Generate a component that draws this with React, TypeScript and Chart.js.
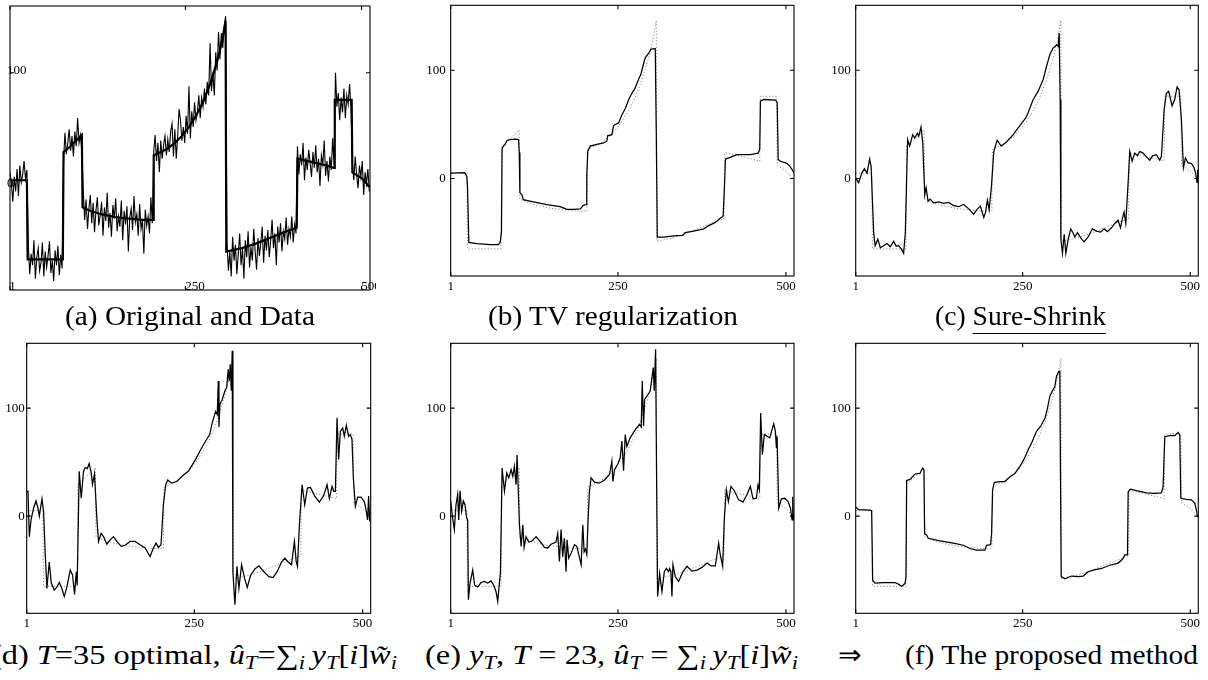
import React, { useEffect, useLayoutEffect, useRef } from 'react';
import { Chart, registerables } from 'chart.js';

Chart.register(...registerables);

type Pt = [number, number];

// ---------- tick values / labels ----------
const xTickValues = [1, 250, 500];
const xTickLabels = ['1', '250', '500'];
const yTickValues = [0, 100];
const yTickLabels = ['0', '100'];

// ---------- original (clean) signal ----------
const originalPts: Pt[] = [
  [1, 5], [25, 5], [26, -65], [76, -65], [77, 30], [85, 34], [95, 40], [103, 45], [104, -19], [115, -22],
  [130, -25], [150, -27.5], [170, -29], [190, -30], [204, -30], [205, 27], [215, 30], [225, 33], [235, 38],
  [245, 44], [255, 52], [265, 62], [275, 74], [285, 90], [295, 110], [302, 128], [307, 146], [308, -58],
  [330, -55], [350, -51], [370, -46], [390, -41], [408, -37], [409, 24], [430, 21], [450, 18], [461, 16],
  [462, 76], [486, 76], [487, 12], [500, 7], [512, -1],
];

// ---------- noisy data (samples 1,3,5,...,511) ----------
const noisyData = [
  12, 2, -14, 8, -5, 15, -9, 18, 3, 10, 22, 6, 14,
  -52, -78, -60, -70, -48, -82, -63, -55, -75, -68, -50, -80, -58, -72, -62, -49, -77, -66, -84, -57, -70, -53, -79, -61, -73,
  22, 47, 28, 38, 50, 31, 44, 26, 48, 35, 60, 38, 45, 30,
  -5, -30, -12, -38, -20, -8, -33, -15, -41, -22, -10, -35, -26, -14, -44, -19, -31, -6, -37, -24, -45, -17, -29, -11, -40,
  -27, -36, -13, -48, -22, -34, -18, -58, -28, -20, -39, -9, -32, -25, -44, -16, -38, -30, -60, -21, -35, -27, -42, -10, -33,
  30, 45, 22, 38, 12, 40, 24, 36, 44, 27, 41, 30, 48, 55, 26, 50, 24, 44, 68, 58, 40, 52, 38, 62, 46, 88, 42, 66, 52, 74,
  58, 65, 80, 60, 78, 70, 86, 72, 92, 80, 126, 84, 100, 80, 118, 102, 136, 112, 135, 122, 140, 150,
  -50, -75, -58, -80, -45, -66, -52, -78, -60, -42, -70, -55, -82, -48, -63, -40, -72, -54, -66, -38, -58, -74, -46, -62, -50,
  -36, -68, -44, -57, -39, -63, -48, -30, -55, -42, -70, -36, -50, -33, -58, -40, -47, -28, -52, -38, -45, -27, -50, -34, -42,
  35, 10, 28, 18, 38, 5, 25, 14, 32, 20, 8, 30, 16, 36, 12, 24, 0, 27, 19, 40, 9, 22, 4, 26, 14, 42, 18,
  100, 70, 82, 58, 78, 65, 86, 60, 80, 72, 90, 68,
  20, 5, 26, 10, -2, 18, 8, 22, -8, 12, 2, 15, -5,
];

// ---------- (b) TV regularization ----------
const tvPts: Pt[] = [
  [1, 5], [22, 5.5], [25, 2], [26, -7], [28, -59], [40, -60], [60, -61], [72, -61], [74.5, -59], [76.5, -50],
  [77.5, 28], [79.5, 30], [82, 31.5], [84.5, 35], [89, 36], [97, 36.5], [102, 36], [103, 24], [104, -13],
  [107, -15], [109, -19.5], [124, -21.5], [144, -24], [164, -26], [174, -28.5], [184, -28.5], [194, -28],
  [198, -25], [202.5, -24], [203.5, 2], [205, 25], [208.5, 30], [218.5, 31.5], [228.5, 33], [233.5, 34.5],
  [234.5, 39.5], [241, 40.5], [243.5, 49], [251, 51.5], [256, 59], [261, 65], [266, 73], [270.5, 78.5],
  [275.5, 83.5], [280.5, 91.5], [284, 96], [287, 103.5], [290.5, 111.5], [295.5, 115.5], [299, 119.5],
  [305.5, 120], [307, 42], [308.5, -54], [318, -54], [333, -53], [346.5, -52.5], [350, -50], [362.5, -48.5],
  [377.5, -46.5], [385, -43.5], [395, -40.5], [402.5, -36.5], [406.5, -35], [408.5, -7], [410, 18],
  [417, 19.5], [427, 22], [447, 22], [458.5, 23.5], [461, 27], [462, 71.5], [467, 73], [484.5, 72.5],
  [487, 70], [488.5, 17.5], [492, 16], [501.5, 14], [505.5, 11.5], [509, 8.5], [512, 5],
];

// ---------- (c) Sure-Shrink ----------
const sureShrinkPts: Pt[] = [
  [1, 0], [2.4, -1], [5.4, -4], [10, 5], [14, 9], [17.8, 5], [21.8, 18], [24, 11], [27.8, -50], [30, -62],
  [34, -56], [37.7, -64], [42.7, -62], [47.7, -60], [52.6, -63], [57.6, -58], [61.6, -62.5], [65, -62],
  [69, -65], [72.5, -69], [75, -50], [78.4, 36], [81.5, 30], [86, 40.5], [89, 37.5], [93, 42], [95, 39],
  [98.4, 47.5], [101, 33], [104, -15], [106, -8.5], [109, -21], [112, -19], [117.5, -22.5], [125, -21.5],
  [132, -23], [139.5, -22], [147, -25], [154.8, -26], [162, -24], [169.7, -28], [177, -33], [182, -28.5],
  [187, -25.5], [192, -36], [194.5, -31.5], [197.5, -20], [200, -29], [203.5, -7], [207, 25], [212, 35.5],
  [218, 30], [224.5, 33], [234.5, 39.5], [244.7, 48], [254.6, 56], [258, 60.5], [265.7, 73], [273, 80.5],
  [280.6, 91.5], [285.6, 103.5], [290.6, 114.5], [295.5, 120.5], [300.5, 123.5], [303, 122], [304.5, 134.5],
  [306, 73], [307, -56], [309.4, -69], [312, -51.5], [314.4, -69], [318, -56], [321.8, -46.5], [325, -50],
  [327.8, -54], [331.8, -50], [336.8, -55], [341.7, -58.5], [347.7, -54], [354, -46.5], [360, -48.5],
  [366.6, -49.5], [371.5, -46.5], [376.5, -49], [382.5, -45.5], [387.4, -41.5], [392.4, -38.5],
  [395.9, -45.5], [398.9, -36.5], [401.3, -31], [403.8, -41.5], [407.3, -4], [409.8, 25], [413.3, 16],
  [417.2, 23.5], [421.2, 21], [424.7, 25], [429.6, 23.5], [434.6, 20], [439.6, 17], [443.6, 21],
  [449.5, 22], [454.5, 17], [457, 20.5], [461, 63.5], [464.4, 79], [467.9, 80.5], [472.9, 67], [476.8, 73],
  [480.3, 84.5], [483.3, 82], [486.8, 54.5], [489.8, 10], [492.8, 19], [496.7, 14.5], [501.7, 14],
  [505.7, 10], [508, 5], [510.1, -3.5], [511, 8], [512, -3],
];

// ---------- (d) T=35 optimal ----------
const optimalPts: Pt[] = [
  [1, 22], [2.9, 23], [4.9, -19], [7.4, -3.5], [11.3, 7.5], [14.8, 14], [17.7, 7.5], [19.7, 0], [23.7, 16],
  [26.1, 4], [28.6, -36], [31, -67], [34.5, -42.5], [37.5, -62], [41.9, -68.5], [45.9, -65.5], [49.4, -61.5],
  [53.3, -67], [56.8, -74.5], [60.7, -65.5], [65.7, -50], [69.1, -54.5], [72.1, -72.5], [74.6, -51.5],
  [76, -64], [79, 41.5], [82, 16.5], [85.4, 41.5], [87.9, 45], [90.9, 44], [93.8, 48.5], [96.8, 40],
  [98.8, 29.5], [101.7, 39], [105.2, -2], [107.7, -23.5], [111.6, -16], [115.1, -19], [120, -26], [125, -22],
  [129.9, -19], [134.9, -23.5], [141.3, -28], [147.2, -27], [154.6, -23.5], [162, -23.5], [169.4, -26.5],
  [176.9, -29.5], [184.2, -37.5], [189.2, -29.5], [193.1, -25], [196.6, -29], [200.5, -26.5], [204, 10.5],
  [207.5, 29], [210.5, 33.5], [216.4, 30.5], [223.8, 32], [233.7, 38], [241.1, 41.5], [248.5, 49],
  [252, 52.5], [259.4, 61.5], [266.8, 69.5], [272.8, 75.5], [276.7, 86.5], [281.6, 97], [284.1, 94],
  [285.6, 125], [286.6, 82.5], [288, 103.5], [291.5, 108], [295.5, 116], [298, 119], [300.4, 136],
  [301.9, 125], [303.4, 140.5], [304.9, 116], [306.3, 153], [307.3, -51.5], [310.3, -82], [313.3, -46.5],
  [316.2, -67], [320.2, -45], [324.6, -57.5], [328.6, -66], [333.5, -55], [339.9, -49], [345.9, -46],
  [353.3, -51.5], [360.7, -56], [367.1, -57], [373, -51.5], [379.5, -42.5], [384.4, -39], [389.4, -42.5],
  [394.3, -45], [398.7, -23.5], [401.2, -41.5], [403.2, -46.5], [406.1, -8], [410.1, 29], [414, 10.5],
  [418, 26], [422.5, 26.5], [428.9, 18.5], [435.8, 13], [442.2, 19], [447.2, 29], [450.6, 16.5],
  [454.6, 27.5], [457, 23], [459.5, 23], [462, 91], [464.4, 52.5], [466.9, 78.5], [470.4, 81.5],
  [472.8, 74], [475.8, 84], [479.3, 74], [481.7, 75.5], [484.2, 71], [486.2, 35.5], [489.2, 9],
  [492.6, 17.5], [497.6, 17.5], [502.5, 13.5], [505.5, 4.5], [507.4, -3.5], [508.9, 18.5], [510.5, -5],
];

// ---------- (e) y_T, T=23 ----------
const yTPts: Pt[] = [
  [1, 14], [3.9, -2], [6.4, -12.5], [8.9, 10.5], [11.4, 20], [12.9, -3.5], [14.9, 23.5], [17.3, 4.5],
  [19.8, 14], [22.3, 10.5], [24.8, -2], [26.3, -3.5], [27.3, -77.5], [29.8, -62], [33.7, -50], [36.7, -64],
  [41.2, -65.5], [46.2, -61.5], [51.1, -60.5], [56.1, -62], [61.1, -60], [65, -64], [68.5, -70], [71, -79],
  [73.5, -62], [75, -53], [77.5, 44.5], [81, 23], [84.4, 40], [87.4, 35.5], [90.9, 43], [93.4, 37],
  [95.8, 46], [98.3, 29], [99.8, 56.5], [101.3, 29], [103.3, -8], [105.8, -28], [108.3, -8], [110.3, -29],
  [113.2, -19], [117.2, -24], [122.2, -23], [128.1, -19], [134.1, -23.5], [140.5, -29], [145.4, -29.5],
  [150.4, -26], [157.8, -24], [160.3, -16], [162.8, -42], [165.3, -12.5], [167.7, -37.5], [170.2, -20.5],
  [172.7, -51.5], [174.2, -22], [176.7, -39], [180.2, -34.5], [185.2, -26.5], [188.7, -28], [191.7, -36],
  [195.2, -45], [197.6, -8], [199.6, -33], [201.6, -30.5], [203.6, -35.5], [205.6, -2], [207.5, 23],
  [210, 35.5], [215, 31.5], [222.5, 30.5], [229.9, 33.5], [237.4, 38.5], [240.9, 51], [242.4, 32],
  [244.9, 43], [249.9, 48.5], [253.3, 54], [255.8, 69.5], [258.3, 42], [260.8, 75.5], [263.2, 64.5],
  [268.2, 72.5], [275.7, 80], [282.1, 85], [284.6, 82.5], [286.1, 125], [288.1, 83.5], [289.6, 108],
  [293, 111], [298, 116], [300.5, 128], [302.5, 137.5], [304, 116], [306, 154.5], [307.4, 41.5],
  [309, -74.5], [312, -53], [315.4, -70], [319, -51.5], [321.9, -48.5], [325.3, -51.5], [326.8, -48.5],
  [328.8, -51.5], [330.3, -74.5], [331.8, -45], [335.3, -56], [340.2, -60.5], [346.7, -51.5],
  [352.7, -46.5], [360.1, -51], [367.6, -50], [375, -47.5], [382.5, -43.5], [388.4, -46], [394.9, -46],
  [399.8, -25], [402.3, -36], [405.8, -46.5], [408.3, -2], [411.3, 24.5], [414.3, 13.5], [418.2, 27.5],
  [423.2, 23.5], [429.7, 15], [436.1, 13], [442.1, 20], [447, 27.5], [451, 16], [456, 16.5], [458.5, 29],
  [460.4, 24.5], [462.4, 95.5], [464.9, 57], [467.9, 75.5], [471.9, 74], [475.9, 72.5], [479.3, 80],
  [481.8, 85.5], [484.3, 78.5], [485.8, 63], [486.8, 74], [489.3, 7.5], [493.2, 16], [498.2, 16.5],
  [503.2, 13.5], [506.7, 7.5], [509.1, -3.5], [510.1, 18], [511, -2], [512, -4],
];

// ---------- (f) proposed method ----------
const proposedPts: Pt[] = [
  [1, 8.5], [5, 6], [22.4, 5.5], [24.8, 5], [26.3, -59.5], [29.8, -62], [42.2, -61.5], [59.6, -61.5],
  [64.6, -63], [69.6, -65], [74.5, -62.5], [76, -56], [77, 33], [82, 34], [89.4, 39], [96.9, 39.5],
  [100.8, 44.5], [102.8, 42.5], [103.8, -16.5], [106.8, -17.5], [109.3, -20.5], [126.7, -23], [146.6, -25],
  [161.5, -27], [171.4, -30], [181.3, -31.5], [193.7, -31.5], [196.2, -27], [202.2, -26.5], [203.7, -16],
  [205.2, 24], [207.7, 31], [216.1, 32], [223.6, 32], [231, 36.5], [238.5, 39.5], [245.9, 46], [251.9, 52.5],
  [258.3, 61.5], [264.3, 69], [270.7, 78.5], [276.7, 83], [283.2, 90.5], [286.6, 98.5], [290.6, 111],
  [294.1, 115.5], [298, 120], [300.5, 129.5], [304, 134], [305.5, 134], [306.5, 33.5], [307.5, -56],
  [313, -58], [322.9, -55.5], [332.8, -56], [340.3, -55.5], [347.7, -51.5], [355.2, -50], [367.6, -48.5],
  [380, -45.5], [392.5, -43.5], [398.9, -40], [402.4, -36], [406.4, -36], [407.4, 22.5], [410.8, 25],
  [419.8, 23.5], [434.7, 21.5], [447.1, 21], [457, 21.5], [459.5, 27], [462, 73.5], [469.4, 74.5],
  [476.9, 74.5], [481.9, 77.5], [484.4, 75], [485.9, 16.5], [494.3, 15.5], [501.7, 15], [506.7, 12],
  [509.2, 5.5], [510.7, 0], [512, -1],
];

// ---------- helpers ----------
const toXY = (pts: Pt[]) => pts.map(([x, y]) => ({ x, y }));

const solidLine = (pts: Pt[]) => ({
  data: toXY(pts),
  borderColor: '#000',
  borderWidth: 1.25,
  pointRadius: 0,
  fill: false,
  tension: 0,
});

const dottedLine = (pts: Pt[]) => ({
  data: toXY(pts),
  borderColor: '#8c8c8c',
  borderWidth: 1,
  borderDash: [1.2, 2],
  pointRadius: 0,
  fill: false,
  tension: 0,
});

const TICK_FONT = '13px "Liberation Serif", "Times New Roman", serif';

const axesFramePlugin = {
  id: 'axesFrame',
  afterDraw(chart: any, _args: any, opts: any) {
    const { ctx, chartArea: a } = chart;
    const xs = chart.scales.x;
    const ys = chart.scales.y;
    ctx.save();
    ctx.strokeStyle = '#000';
    ctx.lineWidth = 1.1;
    ctx.strokeRect(a.left, a.top, a.right - a.left, a.bottom - a.top);
    const L = 4;
    ctx.beginPath();
    xTickValues.forEach((v) => {
      const p = xs.getPixelForValue(v);
      ctx.moveTo(p, a.bottom);
      ctx.lineTo(p, a.bottom - L);
      ctx.moveTo(p, a.top);
      ctx.lineTo(p, a.top + L);
    });
    yTickValues.forEach((v) => {
      const p = ys.getPixelForValue(v);
      ctx.moveTo(a.left, p);
      ctx.lineTo(a.left + L, p);
      ctx.moveTo(a.right, p);
      ctx.lineTo(a.right - L, p);
    });
    ctx.stroke();

    ctx.fillStyle = '#000';
    ctx.font = TICK_FONT;
    if (opts && opts.inside) {
      ctx.textAlign = 'left';
      ctx.textBaseline = 'middle';
      yTickValues.forEach((v, i) => {
        ctx.fillText(yTickLabels[i], a.left - 3, ys.getPixelForValue(v) - 2);
      });
      ctx.textAlign = 'center';
      const dx = [2.5, 9.5, 9.5];
      xTickValues.forEach((v, i) => {
        ctx.fillText(xTickLabels[i], xs.getPixelForValue(v) + dx[i], a.bottom - 3);
      });
    } else {
      const gap = (opts && opts.yGap) || 5;
      ctx.textAlign = 'right';
      ctx.textBaseline = 'middle';
      yTickValues.forEach((v, i) => {
        ctx.fillText(yTickLabels[i], a.left - gap, ys.getPixelForValue(v));
      });
      ctx.textAlign = 'center';
      xTickValues.forEach((v, i) => {
        ctx.fillText(xTickLabels[i], xs.getPixelForValue(v), a.bottom + 10.5);
      });
    }
    ctx.restore();
  },
};

interface PanelProps {
  left: number;
  top: number;
  width: number;
  height: number;
  pad: { left: number; top: number; right: number; bottom: number };
  yMin: number;
  yMax: number;
  datasets: any[];
  inside?: boolean;
  yGap?: number;
}

function Panel({ left, top, width, height, pad, yMin, yMax, datasets, inside, yGap }: PanelProps) {
  const ref = useRef<HTMLCanvasElement>(null);
  useEffect(() => {
    if (!ref.current) return;
    const chart = new Chart(ref.current, {
      type: 'line',
      data: { datasets },
      options: {
        animation: false,
        responsive: true,
        maintainAspectRatio: false,
        events: [],
        layout: { padding: pad },
        scales: {
          x: { type: 'linear', min: 1, max: 512, display: false },
          y: { type: 'linear', min: yMin, max: yMax, display: false },
        },
        plugins: {
          legend: { display: false },
          tooltip: { enabled: false },
          axesFrame: { inside, yGap },
        } as any,
      },
      plugins: [axesFramePlugin],
    } as any);
    return () => chart.destroy();
  }, []);
  return (
    <div style={{ position: 'absolute', left, top, width, height }}>
      <canvas ref={ref} style={{ display: 'block' }} />
    </div>
  );
}

const CAP_FONT = '"Liberation Serif", "Times New Roman", serif';

function Caption({
  left,
  right,
  baseline,
  size = 27,
  children,
}: {
  left: number;
  right: number;
  baseline: number;
  size?: number;
  children: React.ReactNode;
}) {
  const ref = useRef<HTMLSpanElement>(null);
  useLayoutEffect(() => {
    const fit = () => {
      const el = ref.current;
      if (!el) return;
      el.style.transform = 'none';
      const w = el.getBoundingClientRect().width;
      if (w > 0) el.style.transform = `scaleX(${(right - left) / w})`;
    };
    fit();
    const fonts = (document as any).fonts;
    if (fonts && fonts.ready) fonts.ready.then(fit);
  }, [left, right]);
  return (
    <span
      ref={ref}
      style={{
        position: 'absolute',
        left,
        top: baseline - size * 0.8375,
        fontFamily: CAP_FONT,
        fontSize: size,
        lineHeight: `${size}px`,
        whiteSpace: 'nowrap',
        display: 'inline-block',
        transformOrigin: 'left top',
        color: '#000',
      }}
    >
      {children}
    </span>
  );
}

const subStyle: React.CSSProperties = { fontSize: '0.7em', verticalAlign: '-0.28em', lineHeight: 0 };
const Sub = ({ children }: { children: React.ReactNode }) => <span style={subStyle}>{children}</span>;

export default function App() {
  const noisyXY = noisyData.map((v, i) => ({ x: 1 + 2 * i, y: v }));
  const dsA = [
    { data: toXY(originalPts), borderColor: '#000', borderWidth: 2.2, pointRadius: 0, fill: false, tension: 0 },
    { data: noisyXY, borderColor: '#000', borderWidth: 1.1, pointRadius: 0, fill: false, tension: 0 },
  ];
  const pair = (pts: Pt[]) => [solidLine(pts), dottedLine(originalPts)];

  const padTop = { left: 35.7, top: 5.3, bottom: 24 };
  const padBot = { left: 35.7, top: 13.3, bottom: 16.7 };

  return (
    <div
      style={{
        position: 'absolute',
        left: 0,
        top: 0,
        width: 1208,
        height: 680,
        overflow: 'hidden',
        background: '#fff',
      }}
    >
      <Panel left={0} top={0} width={376} height={300} pad={{ left: 10, top: 6, right: 6, bottom: 10 }}
        yMin={-92} yMax={159} datasets={dsA} inside />
      <Panel left={415} top={0} width={390} height={300} pad={{ ...padTop, right: 11 }}
        yMin={-90} yMax={160} datasets={pair(tvPts)} />
      <Panel left={820} top={0} width={388} height={300} pad={{ ...padTop, right: 9.7 }}
        yMin={-90} yMax={160} datasets={pair(sureShrinkPts)} />
      <Panel left={0} top={330} width={380} height={300} pad={{ left: 26.7, top: 13.3, right: 9.3, bottom: 16.7 }}
        yMin={-90} yMax={160} datasets={pair(optimalPts)} yGap={2} />
      <Panel left={415} top={330} width={390} height={300} pad={{ ...padBot, right: 11 }}
        yMin={-90} yMax={160} datasets={pair(yTPts)} />
      <Panel left={820} top={330} width={388} height={300} pad={{ ...padBot, right: 9.7 }}
        yMin={-90} yMax={160} datasets={pair(proposedPts)} />

      <Caption left={65} right={315} baseline={326}>(a) Original and Data</Caption>
      <Caption left={488} right={738} baseline={326}>(b) TV regularization</Caption>
      <Caption left={935} right={1106} baseline={326}>
        (c){' '}
        <span style={{ textDecoration: 'underline', textUnderlineOffset: '8px', textDecorationThickness: '1.3px' }}>
          Sure-Shrink
        </span>
      </Caption>

      <Caption left={-9} right={397} baseline={665}>
        (d) <i>T</i>=35 optimal, <i>û</i>
        <Sub><i>T</i></Sub>=∑<Sub><i>i</i></Sub>{'\u2009'}<i>y</i>
        <Sub><i>T</i></Sub>[<i>i</i>]<i>w̃</i>
        <Sub><i>i</i></Sub>
      </Caption>
      <Caption left={425} right={798} baseline={665}>
        (e) <i>y</i>
        <Sub><i>T</i></Sub>, <i>T</i> = 23, <i>û</i>
        <Sub><i>T</i></Sub> = ∑<Sub><i>i</i></Sub>{'\u2009'}<i>y</i>
        <Sub><i>T</i></Sub>[<i>i</i>]<i>w̃</i>
        <Sub><i>i</i></Sub>
      </Caption>
      <Caption left={838} right={862} baseline={665}>⇒</Caption>
      <Caption left={905} right={1198} baseline={665}>(f) The proposed method</Caption>
    </div>
  );
}
